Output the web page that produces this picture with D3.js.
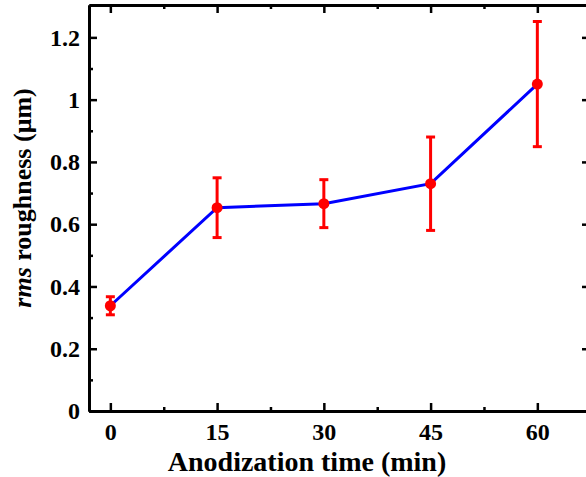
<!DOCTYPE html>
<html>
<head>
<meta charset="utf-8">
<script src="https://cdn.jsdelivr.net/npm/d3@7"></script>
<style>
  body { margin: 0; background: #fff; }
  svg { display: block; }
  text { font-family: "Liberation Serif", "Times New Roman", serif; font-weight: bold; }
</style>
</head>
<body>
<div id="chart"></div>
<script>
// anodization time vs rms roughness
const times = [0, 15, 30, 45, 60];
const roughness = [0.338, 0.653, 0.666, 0.730, 1.050];
const errors = [0.029, 0.096, 0.077, 0.150, 0.201];
const xTicks = [0, 15, 30, 45, 60];
const yTicks = [0, 0.2, 0.4, 0.6, 0.8, 1, 1.2];

const W = 586, H = 477;
const margin = { top: 5, right: -4, bottom: 66, left: 89 };
const width = W - margin.left - margin.right;
const height = H - margin.top - margin.bottom;

const svg = d3.select("#chart").append("svg")
  .attr("width", W)
  .attr("height", H);

const g = svg.append("g")
  .attr("transform", `translate(${margin.left},${margin.top})`);

const x = d3.scaleLinear().domain([-3, 67.4]).range([0, width]);
const y = d3.scaleLinear().domain([0, 1.304]).range([height, 0]);

const xMinor = d3.range(7.5, 67, 15);
const yMinor = d3.range(0.1, 1.3, 0.2);

// inward ticks on all four sides
function styleAxis(sel) {
  sel.attr("font-family", null).attr("font-size", null);
  sel.select(".domain").attr("stroke", "#000").attr("stroke-width", 3);
  sel.selectAll(".tick line").attr("stroke", "#000").attr("stroke-width", 2.5);
  sel.selectAll(".tick text")
    .attr("font-family", "Liberation Serif, serif")
    .attr("font-size", 24)
    .attr("fill", "#000");
}

g.append("g")
  .attr("transform", `translate(0,${height})`)
  .call(d3.axisBottom(x).tickValues(xTicks).tickSize(-8).tickSizeOuter(0).tickPadding(12).tickFormat(d3.format("d")))
  .call(styleAxis);
g.append("g")
  .attr("transform", `translate(0,${height})`)
  .call(d3.axisBottom(x).tickValues(xMinor).tickSize(-4).tickSizeOuter(0).tickFormat(""))
  .call(styleAxis);

g.append("g")
  .call(d3.axisTop(x).tickValues(xTicks).tickSize(-8).tickSizeOuter(0).tickFormat(""))
  .call(styleAxis);
g.append("g")
  .call(d3.axisTop(x).tickValues(xMinor).tickSize(-4).tickSizeOuter(0).tickFormat(""))
  .call(styleAxis);

g.append("g")
  .call(d3.axisLeft(y).tickValues(yTicks).tickSize(-8).tickSizeOuter(0).tickPadding(9).tickFormat(d => d3.format("~g")(d)))
  .call(styleAxis);
g.append("g")
  .call(d3.axisLeft(y).tickValues(yMinor).tickSize(-4).tickSizeOuter(0).tickFormat(""))
  .call(styleAxis);

g.append("g")
  .attr("transform", `translate(${width},0)`)
  .call(d3.axisRight(y).tickValues(yTicks).tickSize(-8).tickSizeOuter(0).tickFormat(""))
  .call(styleAxis);
g.append("g")
  .attr("transform", `translate(${width},0)`)
  .call(d3.axisRight(y).tickValues(yMinor).tickSize(-4).tickSizeOuter(0).tickFormat(""))
  .call(styleAxis);

const data = times.map((t, i) => ({ t, v: roughness[i], e: errors[i] }));

// line
g.append("path")
  .datum(data)
  .attr("fill", "none")
  .attr("stroke", "#0000ff")
  .attr("stroke-width", 3)
  .attr("d", d3.line().x(d => x(d.t)).y(d => y(d.v)));

// error bars
const eb = g.append("g").attr("stroke", "#ff0000").attr("stroke-width", 3);
eb.selectAll("line.v").data(data).enter().append("line")
  .attr("x1", d => x(d.t)).attr("x2", d => x(d.t))
  .attr("y1", d => y(d.v - d.e)).attr("y2", d => y(d.v + d.e));
eb.selectAll("line.top").data(data).enter().append("line")
  .attr("x1", d => x(d.t) - 4.5).attr("x2", d => x(d.t) + 4.5)
  .attr("y1", d => y(d.v + d.e)).attr("y2", d => y(d.v + d.e));
eb.selectAll("line.bot").data(data).enter().append("line")
  .attr("x1", d => x(d.t) - 4.5).attr("x2", d => x(d.t) + 4.5)
  .attr("y1", d => y(d.v - d.e)).attr("y2", d => y(d.v - d.e));

// markers
g.selectAll("circle").data(data).enter().append("circle")
  .attr("cx", d => x(d.t))
  .attr("cy", d => y(d.v))
  .attr("r", 5.5)
  .attr("fill", "#ff0000");

// axis titles
svg.append("text")
  .attr("x", 307)
  .attr("y", 471)
  .attr("text-anchor", "middle")
  .attr("font-size", 28)
  .text("Anodization time (min)");

const yl = svg.append("text")
  .attr("transform", `translate(31,198) rotate(-90)`)
  .attr("text-anchor", "middle")
  .attr("font-size", 26);
yl.append("tspan").attr("font-style", "italic").text("rms");
yl.append("tspan").text(" roughness (\u03bcm)");
</script>
</body>
</html>
